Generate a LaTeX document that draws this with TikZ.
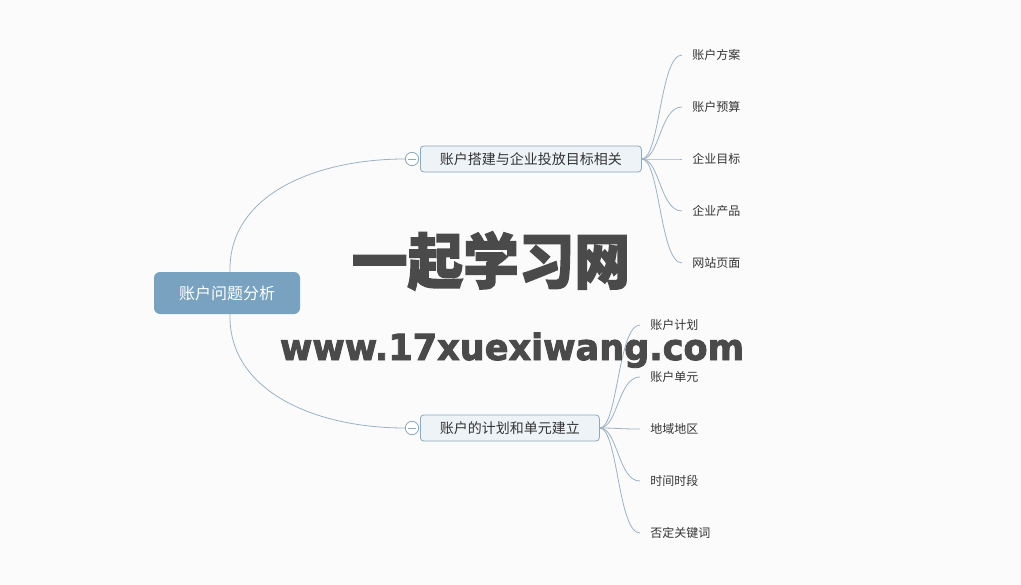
\documentclass[tikz,border=0pt]{standalone}
\usepackage{fontspec}
\setmainfont{Noto Sans CJK SC}
\newfontfamily\urlfont{DejaVu Sans}[BoldFeatures={FakeBold=2.5}]
\newfontfamily\wmfont{Noto Sans CJK SC}[BoldFeatures={FakeBold=2.5}]
\definecolor{bgc}{HTML}{FBFBFC}
\definecolor{rootc}{HTML}{78A2BF}
\definecolor{boxc}{HTML}{EEF3F7}
\definecolor{boxb}{HTML}{8EA8BA}
\definecolor{linec}{HTML}{9DB2C2}
\definecolor{txt}{HTML}{333333}
\definecolor{wm}{HTML}{4A4A4A}
\tikzset{
  rootbox/.style={rounded corners=4.5pt, fill=rootc, text=white, minimum width=109.5pt, minimum height=31.5pt, font=\fontsize{12pt}{14pt}\selectfont, inner sep=0pt},
  branchbox/.style={rounded corners=2.5pt, fill=boxc, draw=boxb, line width=0.6pt, minimum height=19.5pt, text=txt, font=\fontsize{10.5pt}{12pt}\selectfont, inner sep=0pt, anchor=west},
  leaf/.style={anchor=west, inner xsep=7.5pt, inner ysep=2pt, text=txt, font=\fontsize{9pt}{11pt}\selectfont},
  conn/.style={draw=linec, line width=0.6pt},
  fold/.style={circle, draw=boxb, fill=white, minimum size=10pt, inner sep=0pt, line width=0.6pt},
}
\begin{document}
\begin{tikzpicture}[x=0.75pt,y=-0.75pt]
\fill[bgc] (0,0) rectangle (1021,585);
\useasboundingbox (0,0) rectangle (1021,585);

% root
\node[rootbox] (root) at (227,293) {账户问题分析};

% branches
\node[branchbox, minimum width=165.75pt] (b1) at (420,159) {账户搭建与企业投放目标相关};
\node[branchbox, minimum width=134.25pt] (b2) at (420,428) {账户的计划和单元建立};

\node[fold] (f1) at (412,159) {};
\node[fold] (f2) at (412,428) {};
\draw[boxb, line width=0.6pt] ([xshift=-3pt]f1.center) -- ([xshift=3pt]f1.center);
\draw[boxb, line width=0.6pt] ([xshift=-3pt]f2.center) -- ([xshift=3pt]f2.center);

\coordinate (rt) at (230,272);
\coordinate (rb) at (230,314);
\draw[conn] (rt) .. controls (228,195) and (315,159) .. (f1.west);
\draw[conn] (rb) .. controls (228,391) and (315,428) .. (f2.west);

% leaves of branch 1
\node[leaf] (a1) at (682,55) {账户方案};
\node[leaf] (a2) at (682,107) {账户预算};
\node[leaf] (a3) at (682,159) {企业目标};
\node[leaf] (a4) at (682,211) {企业产品};
\node[leaf] (a5) at (682,263) {网站页面};
\foreach \n in {a1,a2,a3,a4,a5}
  \draw[conn] (b1.east) .. controls +(18,0) and +(-22,0) .. (\n.west);

% leaves of branch 2
\node[leaf] (c1) at (640,325) {账户计划};
\node[leaf] (c2) at (640,377) {账户单元};
\node[leaf] (c3) at (640,429) {地域地区};
\node[leaf] (c4) at (640,481) {时间时段};
\node[leaf] (c5) at (640,533) {否定关键词};
\foreach \n in {c1,c2,c3,c4,c5}
  \draw[conn] (b2.east) .. controls +(18,0) and +(-22,0) .. (\n.west);

% watermark
\node[text=wm, inner sep=0pt] (wm1) at (491,261) {\resizebox{208.5pt}{39pt}{\wmfont\bfseries 一起学习网}};
\node[text=wm, inner sep=0pt, anchor=base] (wm2) at (512,360) {\resizebox{348pt}{20.5pt}{\urlfont\bfseries www.17xuexiwang.com}};
\end{tikzpicture}
\end{document}
